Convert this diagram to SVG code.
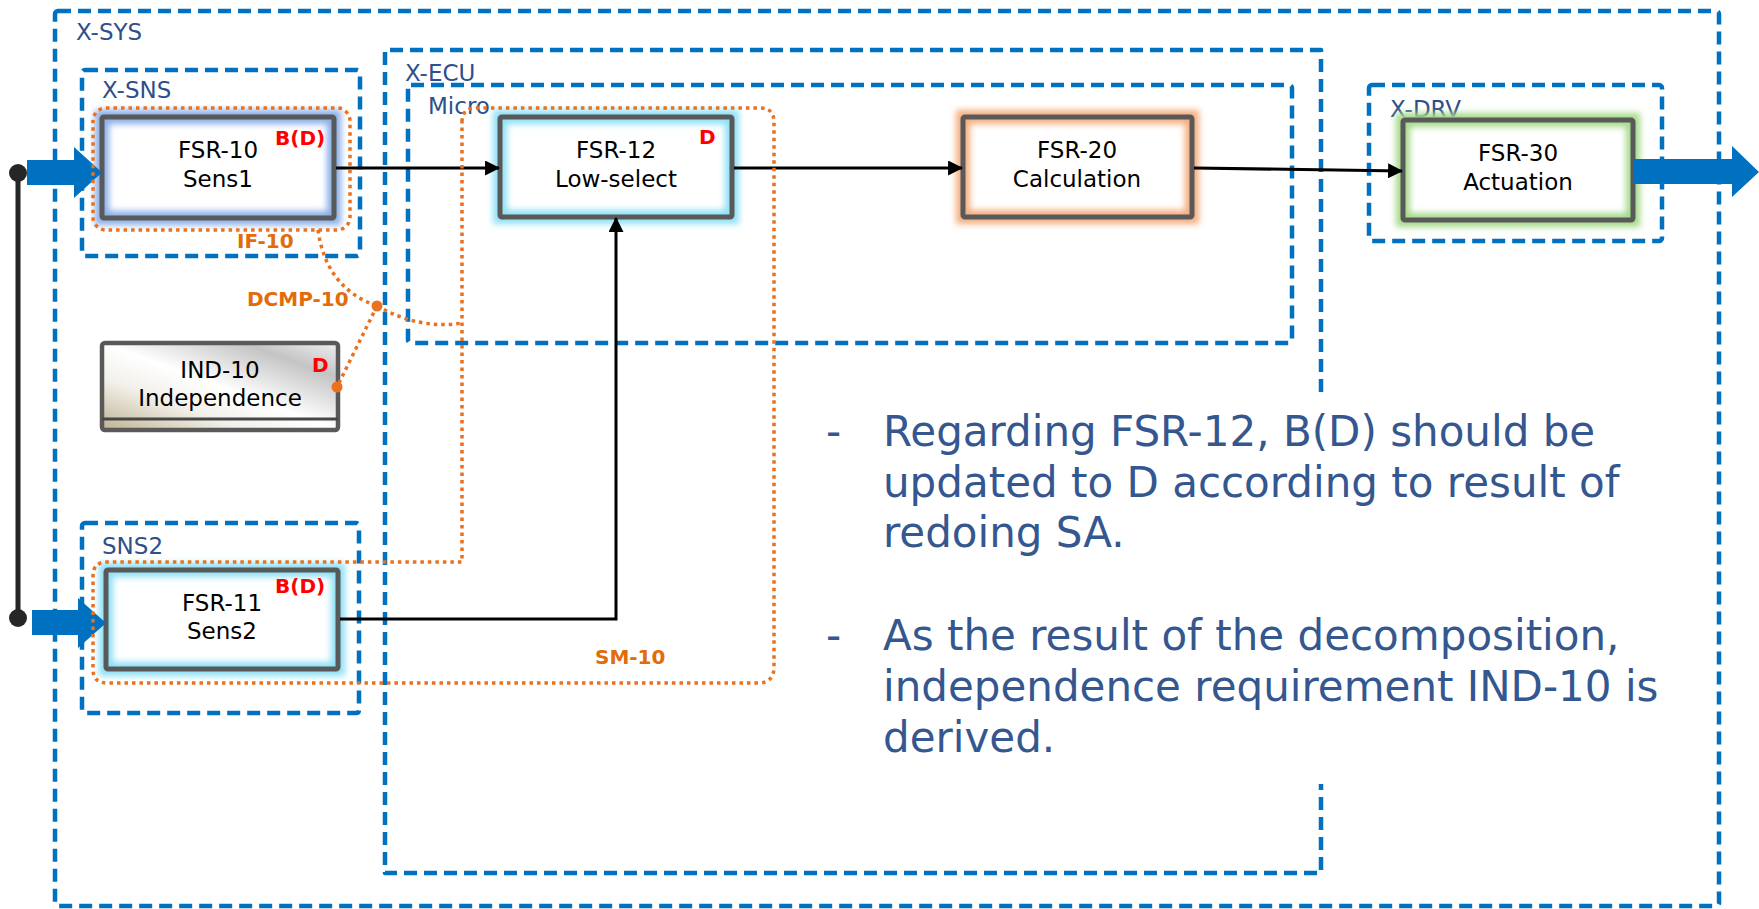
<svg xmlns="http://www.w3.org/2000/svg" width="1759" height="909" viewBox="0 0 1759 909">
<defs>
<style>
.grp{fill:none;stroke:#0070C0;stroke-width:4.5;stroke-dasharray:13 7;stroke-linejoin:round}
.lbl{font-family:"DejaVu Sans","Verdana",sans-serif;font-size:23px;fill:#2E4F8A}
.ntx{font-family:"DejaVu Sans","Verdana",sans-serif;font-size:23px;fill:#000;text-anchor:middle}
.asil{font-family:"DejaVu Sans","Verdana",sans-serif;font-size:20px;font-weight:bold;fill:#FF0000}
.otx{font-family:"DejaVu Sans","Verdana",sans-serif;font-size:20px;font-weight:bold;fill:#E36C0A}
.dot{fill:none;stroke:#E97120;stroke-width:3.5;stroke-dasharray:3.5 4}
.box{fill:none;stroke:#595959;stroke-width:5}
.glow{fill:none;stroke-width:14;filter:url(#blur)}
.con{fill:none;stroke:#000;stroke-width:3}
.big{fill:#0070C0}
.para{font-family:"DejaVu Sans","Verdana",sans-serif;font-size:42px;fill:#35578F}
</style>
<filter id="blur" x="-20%" y="-40%" width="140%" height="180%"><feGaussianBlur stdDeviation="3"/></filter>
<marker id="ah" viewBox="0 0 14 14" refX="13" refY="7" markerWidth="15" markerHeight="15" markerUnits="userSpaceOnUse" orient="auto"><path d="M0,0 L14,7 L0,14 z" fill="#000"/></marker>
<linearGradient id="indg" x1="0" y1="1" x2="1" y2="0">
<stop offset="0" stop-color="#BDB28F"/>
<stop offset="0.3" stop-color="#F2F0EA"/>
<stop offset="0.5" stop-color="#FFFFFF"/>
<stop offset="0.8" stop-color="#C4C4C4"/>
<stop offset="1" stop-color="#F0F0F0"/>
</linearGradient>
</defs>
<rect width="1759" height="909" fill="#FFFFFF"/>

<g id="groups">
<rect class="grp" x="55" y="11" width="1664" height="895" rx="3"/>
<text class="lbl" x="76" y="40">X-SYS</text>
<path class="grp" d="M1321,392 L1321,50 L385,50 L385,873 L1321,873 L1321,784"/>
<text class="lbl" x="405" y="81">X-ECU</text>
<rect class="grp" x="408" y="85" width="884" height="258" rx="3"/>
<text class="lbl" x="428" y="114">Micro</text>
<rect class="grp" x="82" y="70" width="278" height="186" rx="3"/>
<text class="lbl" x="102" y="98">X-SNS</text>
<rect class="grp" x="82" y="523" width="277" height="190" rx="3"/>
<text class="lbl" x="102" y="554">SNS2</text>
<rect class="grp" x="1369" y="85" width="293" height="156" rx="3"/>
<text class="lbl" x="1390" y="117">X-DRV</text>
</g>

<g id="FSR-10">
<rect x="102" y="117" width="232" height="101" fill="#FFFFFF"/>
<rect class="glow" x="102" y="117" width="232" height="101" stroke="#8AAEE8"/>
<rect class="box" x="102" y="117" width="232" height="101" rx="2"/>
<text class="ntx" x="218" y="158">FSR-10</text>
<text class="ntx" x="218" y="187">Sens1</text>
<text class="asil" x="275" y="145">B(D)</text>
</g>

<g id="FSR-11">
<rect x="106" y="570" width="232" height="99" fill="#FFFFFF"/>
<rect class="glow" x="106" y="570" width="232" height="99" stroke="#8EE0F6"/>
<rect class="box" x="106" y="570" width="232" height="99" rx="2"/>
<text class="ntx" x="222" y="611">FSR-11</text>
<text class="ntx" x="222" y="639">Sens2</text>
<text class="asil" x="275" y="593">B(D)</text>
</g>

<g id="IND-10">
<rect x="102" y="343" width="236" height="87" fill="url(#indg)" stroke="#595959" stroke-width="4.5" rx="3"/>
<line x1="102" y1="419" x2="338" y2="419" stroke="#474747" stroke-width="3"/>
<text class="ntx" x="220" y="378">IND-10</text>
<text class="ntx" x="220" y="406">Independence</text>
<text class="asil" x="312" y="372">D</text>
</g>

<g id="FSR-12">
<rect x="500" y="117" width="232" height="100" fill="#FFFFFF"/>
<rect class="glow" x="500" y="117" width="232" height="100" stroke="#8EE0F6"/>
<rect class="box" x="500" y="117" width="232" height="100" rx="2"/>
<text class="ntx" x="616" y="158">FSR-12</text>
<text class="ntx" x="616" y="187">Low-select</text>
<text class="asil" x="699" y="144">D</text>
</g>

<g id="FSR-20">
<rect x="963" y="117" width="229" height="100" fill="#FFFFFF"/>
<rect class="glow" x="963" y="117" width="229" height="100" stroke="#F4AE7E"/>
<rect class="box" x="963" y="117" width="229" height="100" rx="2"/>
<text class="ntx" x="1077" y="158">FSR-20</text>
<text class="ntx" x="1077" y="187">Calculation</text>
</g>

<g id="FSR-30">
<rect x="1403" y="120" width="230" height="100" fill="#FFFFFF"/>
<rect class="glow" x="1403" y="120" width="230" height="100" stroke="#A5DA8A"/>
<rect class="box" x="1403" y="120" width="230" height="100" rx="2"/>
<text class="ntx" x="1518" y="161">FSR-30</text>
<text class="ntx" x="1518" y="190">Actuation</text>
</g>

<g id="connectors">
<line x1="18" y1="173" x2="18" y2="618" stroke="#262626" stroke-width="5"/>
<circle cx="18" cy="173" r="9" fill="#262626"/>
<circle cx="18" cy="618" r="9" fill="#262626"/>
<polygon class="big" points="27,160 74,160 74,147 102,172.5 74,198 74,185 27,185"/>
<polygon class="big" points="32,610 78,610 78,598 106,623 78,648 78,635 32,635"/>
<polygon class="big" points="1634,159 1732,159 1732,146 1759,172 1732,197 1732,184 1634,184"/>
<path class="con" d="M336,168 L499,168" marker-end="url(#ah)"/>
<path class="con" d="M340,619 L616,619 L616,218" marker-end="url(#ah)"/>
<path class="con" d="M734,168 L962,168" marker-end="url(#ah)"/>
<path class="con" d="M1194,168 L1402,171" marker-end="url(#ah)"/>
</g>

<g id="safety-regions">
<rect class="dot" x="93" y="108" width="257" height="122" rx="13"/>
<text class="otx" x="237" y="248">IF-10</text>
<path class="dot" d="M462,122 Q462,108 476,108 L760,108 Q774,108 774,122 L774,667 Q774,683 758,683 L107,683 Q93,683 93,669 L93,576 Q93,562 107,562 L462,562 Z"/>
<text class="otx" x="595" y="664">SM-10</text>
<path class="dot" d="M318,230 Q326,288 377,306"/>
<path class="dot" d="M377,306 Q420,330 462,323"/>
<path class="dot" d="M377,306 L337,387"/>
<circle cx="377" cy="306" r="5.5" fill="#E97120"/>
<circle cx="337" cy="387" r="5.5" fill="#E97120"/>
<text class="otx" x="247" y="306">DCMP-10</text>
</g>

<g id="notes">
<text class="para" x="826" y="446">-</text>
<text class="para" x="883" y="446">Regarding FSR-12, B(D) should be</text>
<text class="para" x="883" y="497">updated to D according to result of</text>
<text class="para" x="883" y="547">redoing SA.</text>
<text class="para" x="826" y="650">-</text>
<text class="para" x="883" y="650">As the result of the decomposition,</text>
<text class="para" x="883" y="701">independence requirement IND-10 is</text>
<text class="para" x="883" y="752">derived.</text>
</g>
</svg>
